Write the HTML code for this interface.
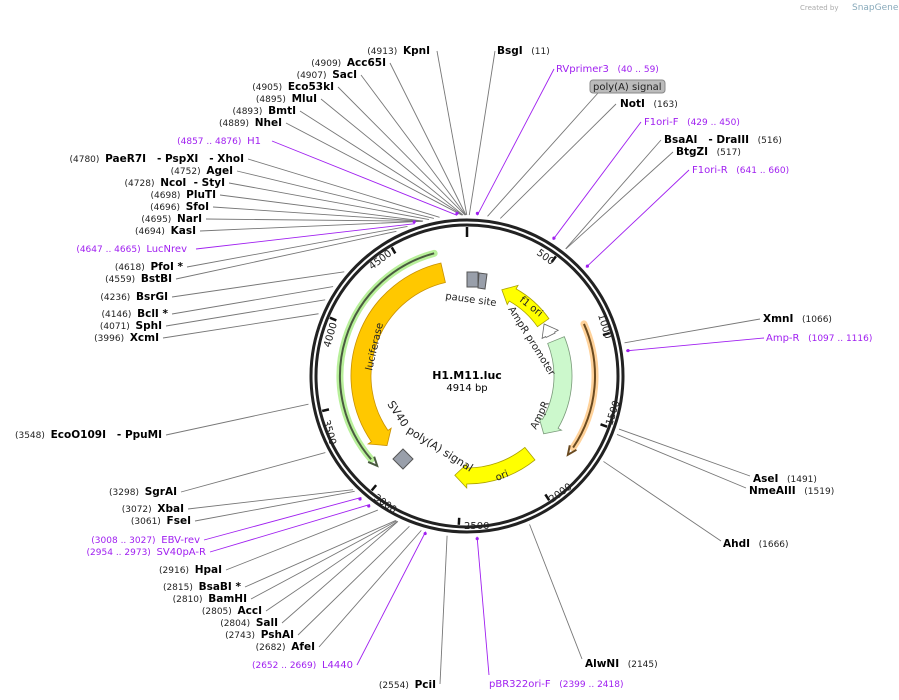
<!DOCTYPE html>
<html><head><meta charset="utf-8">
<style>
html,body{margin:0;padding:0;background:#fff;}
svg{display:block;font-family:"DejaVu Sans","Liberation Sans",sans-serif;}
text{white-space:pre;}
.n{font-size:10.5px;font-weight:bold;fill:#000;}
.p{font-size:9px;fill:#222;}
.pu{fill:#a020f0;font-size:10px;}
.pun{fill:#a020f0;font-size:9px;}
.f{font-size:10px;fill:#222;}
</style></head><body>
<svg id="s" width="899" height="700" viewBox="0 0 899 700" xmlns="http://www.w3.org/2000/svg" xml:space="preserve">
<text x="800" y="10" font-size="7" fill="#aaa">Created by</text>
<text x="852" y="10" font-size="9" fill="#8ab">SnapGene</text>
<g id="lines"></g>
<circle cx="467" cy="376" r="156" fill="none" stroke="#222" stroke-width="3"/>
<circle cx="467" cy="376" r="151" fill="none" stroke="#222" stroke-width="3"/>
<g id="ticks"></g>
<g id="feat"></g>
<g class="f" font-size="10">
<text transform="translate(536,254) rotate(36)">500</text>
<text transform="translate(598,315) rotate(73)">1000</text>
<text transform="translate(612,426) rotate(-72)">1500</text>
<text transform="translate(552,503) rotate(-36)">2000</text>
<text x="464" y="529">2500</text>
<text transform="translate(373,499) rotate(35)">3000</text>
<text transform="translate(323,421) rotate(74)">3500</text>
<text transform="translate(330,348) rotate(-74)">4000</text>
<text transform="translate(372,270) rotate(-37)">4500</text>
</g>
<g class="f" font-size="11">
<text transform="translate(445,299) rotate(8)">pause site</text>
<text transform="translate(508,309) rotate(58)">AmpR promoter</text>
<text transform="translate(536,430) rotate(-64)">AmpR</text>
<text transform="translate(519,301) rotate(38)" font-size="10">f1 ori</text>
<text transform="translate(497,481) rotate(-22)" font-size="10">ori</text>
<text transform="translate(372,371) rotate(-77)" font-size="10">luciferase</text>
<text transform="translate(387,404) rotate(56)" font-size="11">SV40</text>
<text transform="translate(406,432) rotate(32)" font-size="11">poly(A) signal</text>
</g>
<text x="467" y="379" text-anchor="middle" font-size="11" font-weight="bold">H1.M11.luc</text>
<text x="467" y="391" text-anchor="middle" font-size="10">4914 bp</text>

<g text-anchor="end">
<text x="430" y="54"><tspan class="p">(4913)  </tspan><tspan class="n">KpnI</tspan></text>
<text x="386" y="66"><tspan class="p">(4909)  </tspan><tspan class="n">Acc65I</tspan></text>
<text x="357" y="78"><tspan class="p">(4907)  </tspan><tspan class="n">SacI</tspan></text>
<text x="334" y="90"><tspan class="p">(4905)  </tspan><tspan class="n">Eco53kI</tspan></text>
<text x="317" y="102"><tspan class="p">(4895)  </tspan><tspan class="n">MluI</tspan></text>
<text x="296" y="114"><tspan class="p">(4893)  </tspan><tspan class="n">BmtI</tspan></text>
<text x="282" y="126"><tspan class="p">(4889)  </tspan><tspan class="n">NheI</tspan></text>
<text x="261" y="144"><tspan class="pun">(4857 .. 4876)  </tspan><tspan class="pu">H1</tspan></text>
<text x="244" y="162"><tspan class="p">(4780)  </tspan><tspan class="n">PaeR7I   - PspXI   - XhoI</tspan></text>
<text x="233" y="174"><tspan class="p">(4752)  </tspan><tspan class="n">AgeI</tspan></text>
<text x="225" y="186"><tspan class="p">(4728)  </tspan><tspan class="n">NcoI  - StyI</tspan></text>
<text x="216" y="198"><tspan class="p">(4698)  </tspan><tspan class="n">PluTI</tspan></text>
<text x="209" y="210"><tspan class="p">(4696)  </tspan><tspan class="n">SfoI</tspan></text>
<text x="202" y="222"><tspan class="p">(4695)  </tspan><tspan class="n">NarI</tspan></text>
<text x="196" y="234"><tspan class="p">(4694)  </tspan><tspan class="n">KasI</tspan></text>
<text x="187" y="252"><tspan class="pun">(4647 .. 4665)  </tspan><tspan class="pu">LucNrev</tspan></text>
<text x="183" y="270"><tspan class="p">(4618)  </tspan><tspan class="n">PfoI *</tspan></text>
<text x="172" y="282"><tspan class="p">(4559)  </tspan><tspan class="n">BstBI</tspan></text>
<text x="168" y="300"><tspan class="p">(4236)  </tspan><tspan class="n">BsrGI</tspan></text>
<text x="168" y="317"><tspan class="p">(4146)  </tspan><tspan class="n">BclI *</tspan></text>
<text x="162" y="329"><tspan class="p">(4071)  </tspan><tspan class="n">SphI</tspan></text>
<text x="159" y="341"><tspan class="p">(3996)  </tspan><tspan class="n">XcmI</tspan></text>
<text x="162" y="438"><tspan class="p">(3548)  </tspan><tspan class="n">EcoO109I   - PpuMI</tspan></text>
<text x="177" y="495"><tspan class="p">(3298)  </tspan><tspan class="n">SgrAI</tspan></text>
<text x="184" y="512"><tspan class="p">(3072)  </tspan><tspan class="n">XbaI</tspan></text>
<text x="191" y="524"><tspan class="p">(3061)  </tspan><tspan class="n">FseI</tspan></text>
<text x="200" y="543"><tspan class="pun">(3008 .. 3027)  </tspan><tspan class="pu">EBV-rev</tspan></text>
<text x="206" y="555"><tspan class="pun">(2954 .. 2973)  </tspan><tspan class="pu">SV40pA-R</tspan></text>
<text x="222" y="573"><tspan class="p">(2916)  </tspan><tspan class="n">HpaI</tspan></text>
<text x="241" y="590"><tspan class="p">(2815)  </tspan><tspan class="n">BsaBI *</tspan></text>
<text x="247" y="602"><tspan class="p">(2810)  </tspan><tspan class="n">BamHI</tspan></text>
<text x="262" y="614"><tspan class="p">(2805)  </tspan><tspan class="n">AccI</tspan></text>
<text x="278" y="626"><tspan class="p">(2804)  </tspan><tspan class="n">SalI</tspan></text>
<text x="294" y="638"><tspan class="p">(2743)  </tspan><tspan class="n">PshAI</tspan></text>
<text x="315" y="650"><tspan class="p">(2682)  </tspan><tspan class="n">AfeI</tspan></text>
<text x="353" y="668"><tspan class="pun">(2652 .. 2669)  </tspan><tspan class="pu">L4440</tspan></text>
<text x="436" y="688"><tspan class="p">(2554)  </tspan><tspan class="n">PciI</tspan></text>
</g>
<g>
<text x="497" y="54"><tspan class="n">BsgI</tspan><tspan class="p">   (11)</tspan></text>
<text x="556" y="72"><tspan class="pu">RVprimer3</tspan><tspan class="pun">   (40 .. 59)</tspan></text>
<rect x="590" y="80" width="75" height="13" rx="3" fill="#bbb" stroke="#888"/>
<text x="593" y="90" font-size="10" fill="#222">poly(A) signal</text>
<text x="620" y="107"><tspan class="n">NotI</tspan><tspan class="p">   (163)</tspan></text>
<text x="644" y="125"><tspan class="pu">F1ori-F</tspan><tspan class="pun">   (429 .. 450)</tspan></text>
<text x="664" y="143"><tspan class="n">BsaAI   - DraIII</tspan><tspan class="p">   (516)</tspan></text>
<text x="676" y="155"><tspan class="n">BtgZI</tspan><tspan class="p">   (517)</tspan></text>
<text x="692" y="173"><tspan class="pu">F1ori-R</tspan><tspan class="pun">   (641 .. 660)</tspan></text>
<text x="763" y="322"><tspan class="n">XmnI</tspan><tspan class="p">   (1066)</tspan></text>
<text x="766" y="341"><tspan class="pu">Amp-R</tspan><tspan class="pun">   (1097 .. 1116)</tspan></text>
<text x="753" y="482"><tspan class="n">AseI</tspan><tspan class="p">   (1491)</tspan></text>
<text x="749" y="494"><tspan class="n">NmeAIII</tspan><tspan class="p">   (1519)</tspan></text>
<text x="723" y="547"><tspan class="n">AhdI</tspan><tspan class="p">   (1666)</tspan></text>
<text x="585" y="667"><tspan class="n">AlwNI</tspan><tspan class="p">   (2145)</tspan></text>
<text x="489" y="687"><tspan class="pu">pBR322ori-F</tspan><tspan class="pun">   (2399 .. 2418)</tspan></text>
</g>
</svg>
<script>
var cx=467,cy=376,N=4914,NS="http://www.w3.org/2000/svg";
function P(r,a){a=a*Math.PI/180;return [cx+r*Math.sin(a),cy-r*Math.cos(a)];}
function A(bp){return bp/N*360;}
function el(g,t,at){var e=document.createElementNS(NS,t);for(var k in at)e.setAttribute(k,at[k]);document.getElementById(g).appendChild(e);return e;}
var G="#777",U="#a020f0";
var L=[[437,51,4913,G],[390,63,4909,G],[361,75,4907,G],[338,87,4905,G],[321,99,4895,G],[300,111,4893,G],[286,123,4889,G],
[272,141,4866,U],[248,159,4780,G],[237,171,4752,G],[229,183,4728,G],[220,195,4698,G],[213,207,4696,G],[206,219,4695,G],[200,231,4694,G],
[196,249,4656,U],[187,267,4618,G],[176,279,4559,G],[172,297,4236,G],[172,314,4146,G],[166,326,4071,G],[163,338,3996,G],
[166,435,3548,G],[181,492,3298,G],[188,509,3072,G],[195,521,3061,G],[204,540,3017,U],[210,552,2963,U],[226,570,2916,G],
[245,587,2815,G],[251,599,2810,G],[266,611,2805,G],[282,623,2804,G],[298,635,2743,G],[319,647,2682,G],[357,665,2660,U],[440,684,2554,G],
[495,51,11,G],[554,69,50,U],[598,93,100,G],[616,104,163,G],[641,122,440,U],[661,140,516,G],[673,152,517,G],[689,170,650,U],
[760,319,1066,G],[764,338,1106,U],[750,476,1491,G],[746,488,1519,G],[721,541,1666,G],[582,659,2145,G],[489,675,2408,U]];
L.forEach(function(l){var p=P(161,A(l[2]));el("lines","line",{x1:l[0],y1:l[1],x2:p[0],y2:p[1],stroke:l[3],"stroke-width":0.9});
 if(l[3]==U){var q=P(163,A(l[2]));el("lines","circle",{cx:q[0],cy:q[1],r:1.6,fill:U});}});
for(var b=0;b<N;b+=500){var a=A(b),p1=P(149,a),p2=P(b==0?139:142,a);el("ticks","line",{x1:p1[0],y1:p1[1],x2:p2[0],y2:p2[1],stroke:"#111","stroke-width":2.5});}
function arc(r,a1,a2){var p=P(r,a1),q=P(r,a2),lg=Math.abs(a2-a1)>180?1:0,sw=a2>a1?1:0;return "M"+p+" A"+r+","+r+" 0 "+lg+","+sw+" "+q;}
function arrow(r,w,a1,a2,fill,stroke){var d=a2>a1?1:-1,h=12/r*180/Math.PI,ab=a2-d*h;
 var o=r+w/2,i=r-w/2,p=P(o,a1);var s="M"+p+" A"+o+","+o+" 0 0,"+(d>0?1:0)+" "+P(o,ab)+" L"+P(o+4,ab)+" L"+P(r,a2)+" L"+P(i-4,ab)+" L"+P(i,ab)+" A"+i+","+i+" 0 0,"+(d>0?0:1)+" "+P(i,a1)+" Z";
 el("feat","path",{d:s,fill:fill,stroke:stroke,"stroke-width":0.8});}
function thin(r,a1,a2,glow,col){var d=a2>a1?1:-1,ab=a2-d*4;
 el("feat","path",{d:arc(r,a1,ab),fill:"none",stroke:glow,"stroke-width":7,"stroke-linecap":"round"});
 el("feat","path",{d:arc(r,a1,ab),fill:"none",stroke:col,"stroke-width":2});
 el("feat","path",{d:"M"+P(r+4,ab)+" L"+P(r,a2)+" L"+P(r-4,ab),fill:"none",stroke:col,"stroke-width":2});}
thin(127,-15,-135,"#b8f09a","#4a5a40");
arrow(106,20,-13,-131,"#ffc800","#c89000");
thin(128,66,128,"#ffd29a","#6a4a20");
arrow(93,14,55,22,"#ffff00","#aaa000");
arrow(93,10,64,56,"#fff","#666");
arrow(96,18,68,127,"#ccf8cc","#7a9a7a");
arrow(100,16,141,187,"#ffff00","#aaa000");
el("feat","path",{d:"M467,272 h11 v15 h-11 z",fill:"#999faa",stroke:"#555"});
el("feat","path",{d:"M479,273 l8,1 l-2,15 l-7,-1 z",fill:"#999faa",stroke:"#555"});
el("feat","path",{d:"M403,449 l10,10 l-10,10 l-10,-10 z",fill:"#999faa",stroke:"#555"});
</script>
</body></html>
